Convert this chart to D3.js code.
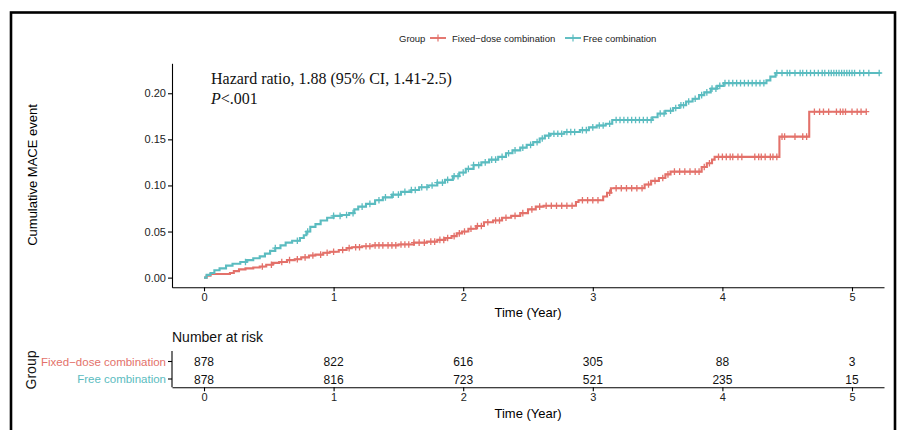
<!DOCTYPE html>
<html><head><meta charset="utf-8">
<script src="https://cdn.jsdelivr.net/npm/d3@7"></script>
<style>
html,body{margin:0;padding:0;background:#fff;}
svg{display:block;font-family:"Liberation Sans",Arial,sans-serif;}
</style></head>
<body>
<svg id="chart" width="898" height="430"></svg>
<script>
// ---------- data ----------
const groups = ["Fixed−dose combination", "Free combination"];
const groupColors = ["#E3716A", "#5BBCC0"];
// step events: [time (years), cumulative incidence after the event]
const fixedEvents = [
 [0.02,0.002],[0.05,0.004],[0.20,0.005],[0.23,0.007],[0.27,0.009],[0.32,0.010],[0.38,0.011],[0.43,0.012],
 [0.48,0.014],[0.53,0.016],[0.58,0.017],[0.64,0.019],[0.70,0.020],[0.75,0.022],[0.81,0.024],[0.86,0.025],
 [0.92,0.027],[0.97,0.028],[1.04,0.030],[1.10,0.032],[1.14,0.033],[1.22,0.034],[1.30,0.035],[1.50,0.036],
 [1.62,0.038],[1.72,0.039],[1.80,0.041],[1.86,0.043],[1.91,0.045],[1.95,0.048],[1.99,0.050],[2.04,0.053],
 [2.10,0.056],[2.16,0.060],[2.23,0.062],[2.30,0.065],[2.37,0.067],[2.44,0.070],[2.50,0.074],[2.56,0.077],
 [2.62,0.078],[2.87,0.082],[2.89,0.084],[3.08,0.088],[3.11,0.092],[3.14,0.097],[3.40,0.101],[3.45,0.105],
 [3.51,0.108],[3.56,0.112],[3.60,0.115],[3.84,0.120],[3.88,0.124],[3.92,0.128],[3.94,0.131],[4.44,0.153],
 [4.67,0.180]
];
const freeEvents = [
 [0.02,0.003],[0.05,0.005],[0.08,0.008],[0.12,0.010],[0.17,0.013],[0.22,0.015],[0.28,0.017],[0.33,0.019],
 [0.38,0.021],[0.43,0.023],[0.47,0.026],[0.51,0.029],[0.55,0.032],[0.59,0.035],[0.63,0.038],[0.68,0.040],
 [0.74,0.043],[0.77,0.046],[0.79,0.050],[0.82,0.055],[0.86,0.058],[0.90,0.062],[0.95,0.065],[1.00,0.067],
 [1.06,0.068],[1.12,0.070],[1.16,0.074],[1.19,0.077],[1.25,0.080],[1.32,0.084],[1.38,0.087],[1.45,0.090],
 [1.52,0.093],[1.60,0.095],[1.66,0.098],[1.73,0.100],[1.80,0.103],[1.86,0.106],[1.92,0.110],[1.97,0.114],
 [2.02,0.118],[2.08,0.122],[2.14,0.125],[2.20,0.128],[2.27,0.131],[2.33,0.135],[2.38,0.138],[2.44,0.141],
 [2.49,0.144],[2.54,0.147],[2.59,0.151],[2.63,0.154],[2.67,0.156],[2.78,0.158],[2.90,0.160],[2.97,0.163],
 [3.03,0.165],[3.10,0.167],[3.15,0.171],[3.46,0.174],[3.50,0.178],[3.56,0.181],[3.62,0.184],[3.67,0.187],
 [3.72,0.191],[3.77,0.194],[3.82,0.198],[3.86,0.201],[3.91,0.205],[3.96,0.208],[4.01,0.211],[4.34,0.214],
 [4.37,0.218],[4.41,0.222]
];
const fixedEnd = 5.11;
const freeEnd = 5.22;
const fixedCensor = [0.45,0.52,0.60,0.66,0.72,0.78,0.84,0.90,0.95,1.00,1.07,1.12,1.17,1.20,1.25,1.28,1.32,1.35,
 1.38,1.42,1.45,1.48,1.52,1.55,1.58,1.62,1.66,1.70,1.75,1.78,1.82,1.85,1.88,1.93,1.97,2.01,2.06,2.11,2.14,2.19,
 2.25,2.28,2.33,2.40,2.46,2.53,2.59,2.64,2.68,2.72,2.76,2.80,2.84,2.92,2.96,3.00,3.04,3.13,3.18,3.22,3.26,3.30,
 3.34,3.38,3.43,3.48,3.54,3.58,3.63,3.67,3.71,3.75,3.79,3.82,3.86,3.90,3.97,4.00,4.03,4.06,4.08,4.12,4.15,4.25,
 4.28,4.30,4.33,4.37,4.39,4.42,4.46,4.48,4.56,4.62,4.65,4.71,4.75,4.78,4.82,4.88,4.91,4.93,4.95,5.00,5.04,5.07,5.11];
const freeCensor = [0.32,0.55,0.72,0.80,1.00,1.05,1.10,1.15,1.22,1.28,1.35,1.40,1.46,1.50,1.55,1.60,1.63,1.68,
 1.72,1.76,1.80,1.84,1.88,1.93,1.96,2.00,2.04,2.08,2.12,2.17,2.22,2.25,2.30,2.35,2.40,2.46,2.52,2.57,2.61,2.66,
 2.70,2.73,2.76,2.80,2.83,2.86,2.92,2.95,3.00,3.05,3.08,3.13,3.18,3.21,3.24,3.27,3.30,3.33,3.36,3.39,3.42,3.45,
 3.52,3.55,3.60,3.64,3.68,3.70,3.74,3.79,3.84,3.88,3.92,3.95,3.98,4.02,4.05,4.08,4.11,4.14,4.17,4.20,4.23,4.26,
 4.29,4.32,4.42,4.46,4.50,4.52,4.56,4.60,4.62,4.65,4.68,4.71,4.74,4.77,4.79,4.82,4.84,4.86,4.88,4.90,4.92,4.94,
 4.96,4.98,5.00,5.02,5.06,5.09,5.13,5.21];
const xTicks = [0,1,2,3,4,5];
const yTicks = [0,0.05,0.10,0.15,0.20];
const riskFixed = [878,822,616,305,88,3];
const riskFree = [878,816,723,521,235,15];
const annotation1 = "Hazard ratio,  1.88 (95% CI, 1.41-2.5)";

// ---------- drawing ----------
const svg = d3.select("#chart");
const x = d3.scaleLinear().domain([-0.247, 5.247]).range([172, 884]);
const y = d3.scaleLinear().domain([-0.0105, 0.2325]).range([287.3, 63.3]);

// frame
svg.append("rect").attr("x",11).attr("y",12.5).attr("width",884).attr("height",440)
  .attr("fill","none").attr("stroke","#000").attr("stroke-width",2.6);

// axes
const xAxis = svg.append("g").attr("transform","translate(0,287.3)")
  .call(d3.axisBottom(x).tickValues(xTicks).tickSize(4).tickSizeOuter(0).tickPadding(2).tickFormat(d3.format("d")));
const yAxis = svg.append("g").attr("transform","translate(172,0)")
  .call(d3.axisLeft(y).tickValues(yTicks).tickSize(4).tickSizeOuter(0).tickPadding(2).tickFormat(d3.format(".2f")));
[xAxis,yAxis].forEach(a=>{
  a.attr("font-family",null);
  a.select(".domain").attr("stroke","#000").attr("stroke-width",1.1);
  a.selectAll(".tick line").attr("stroke","#000").attr("stroke-width",1.1);
  a.selectAll(".tick text").attr("fill","#222").attr("font-size",11);
});

svg.append("text").attr("x",528).attr("y",317).attr("text-anchor","middle")
  .attr("font-size",13).text("Time (Year)");
svg.append("text").attr("transform","translate(37,175) rotate(-90)").attr("text-anchor","middle")
  .attr("font-size",13).text("Cumulative MACE event");

// curves
function stepValue(events, t){
  const i = d3.bisector(d=>d[0]).right(events, t);
  return i===0 ? 0 : events[i-1][1];
}
const series = [
  {events: fixedEvents, end: fixedEnd, censor: fixedCensor, color: groupColors[0]},
  {events: freeEvents, end: freeEnd, censor: freeCensor, color: groupColors[1]}
];
const line = d3.line().x(d=>x(d[0])).y(d=>y(d[1])).curve(d3.curveStepAfter);
series.forEach(s=>{
  const pts = [[0,0]].concat(s.events).concat([[s.end, s.events[s.events.length-1][1]]]);
  svg.append("path").attr("d", line(pts)).attr("fill","none").attr("stroke",s.color)
    .attr("stroke-width",2.1);
  const g = svg.append("g");
  s.censor.forEach(t=>{
    const cx = x(t), cy = y(stepValue(s.events,t));
    g.append("path").attr("d",`M${cx-3},${cy}H${cx+3}M${cx},${cy-3.3}V${cy+3.3}`)
      .attr("stroke",s.color).attr("stroke-width",1.3).attr("fill","none");
  });
});

// annotation
svg.append("text").attr("x",211).attr("y",83.5).style("font-family","'Liberation Serif','Times New Roman',serif")
  .attr("font-size",16).attr("fill","#111").text(annotation1);
const pt = svg.append("text").attr("x",211).attr("y",103.5).style("font-family","'Liberation Serif','Times New Roman',serif")
  .attr("font-size",16).attr("fill","#111");
pt.append("tspan").attr("font-style","italic").text("P");
pt.append("tspan").text("<.001");

// legend
const lg = svg.append("g");
lg.append("text").attr("x",399).attr("y",41.5).attr("font-size",9.5).attr("fill","#222").text("Group");
const legendX = [[430,452],[565,583]];
groups.forEach((gname,i)=>{
  const [kx,tx] = legendX[i];
  lg.append("path").attr("d",`M${kx},38H${kx+16}`).attr("stroke",groupColors[i]).attr("stroke-width",1.9);
  lg.append("path").attr("d",`M${kx+8},34.5V41.5`).attr("stroke",groupColors[i]).attr("stroke-width",1.2);
  lg.append("text").attr("x",tx).attr("y",41.5).attr("font-size",9.5).attr("fill","#222").text(gname);
});

// risk table
svg.append("text").attr("x",172).attr("y",342).attr("font-size",14).attr("fill","#111").text("Number at risk");
const rowY = d3.scalePoint().domain(groups).range([361.5,379]);
const tAxis = svg.append("g").attr("transform","translate(0,387.3)")
  .call(d3.axisBottom(x).tickValues(xTicks).tickSize(4).tickSizeOuter(0).tickPadding(2).tickFormat(d3.format("d")));
tAxis.attr("font-family",null);
tAxis.select(".domain").attr("stroke","#000").attr("stroke-width",1.1);
tAxis.selectAll(".tick line").attr("stroke","#000").attr("stroke-width",1.1);
tAxis.selectAll(".tick text").attr("fill","#222").attr("font-size",11);
svg.append("line").attr("x1",172).attr("x2",172).attr("y1",351).attr("y2",387.3)
  .attr("stroke","#000").attr("stroke-width",1.1);
groups.forEach((gname,i)=>{
  const yy = rowY(gname);
  svg.append("line").attr("x1",168).attr("x2",172).attr("y1",yy).attr("y2",yy).attr("stroke","#000").attr("stroke-width",1.1);
  svg.append("text").attr("x",166).attr("y",yy+4).attr("text-anchor","end").attr("font-size",11.5)
    .attr("fill",groupColors[i]).text(gname);
  const vals = i===0 ? riskFixed : riskFree;
  vals.forEach((v,j)=>{
    svg.append("text").attr("x",x(xTicks[j])).attr("y",yy+4.5).attr("text-anchor","middle")
      .attr("font-size",12).attr("fill","#111").text(v);
  });
});
svg.append("text").attr("x",528).attr("y",418).attr("text-anchor","middle").attr("font-size",13).text("Time (Year)");
svg.append("text").attr("transform","translate(36,370) rotate(-90)").attr("text-anchor","middle")
  .attr("font-size",14).attr("fill","#111").text("Group");
</script>
</body></html>
